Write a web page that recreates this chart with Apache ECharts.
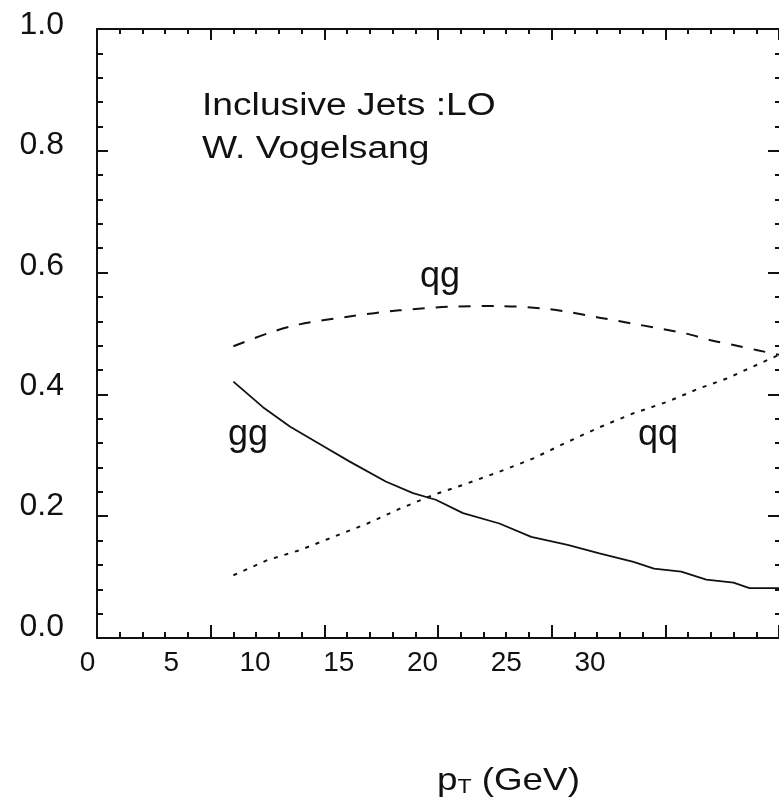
<!DOCTYPE html>
<html>
<head>
<meta charset="utf-8">
<script src="https://cdn.jsdelivr.net/npm/echarts@6/dist/echarts.min.js"></script>
<style>
html,body{margin:0;padding:0;background:#ffffff;}
#c{width:779px;height:803px;}
</style>
</head>
<body>
<div id="c"></div>
<script>
// ---- data ----
const xTickLabels = [0, 5, 10, 15, 20, 25, 30];
const yTickLabels = [0.0, 0.2, 0.4, 0.6, 0.8, 1.0];

// gg (solid)
const ggPt   = [6.0, 7.3, 8.5, 10.0, 11.1, 12.7, 13.9, 14.9, 16.1, 17.7, 19.1, 20.7, 22.1, 23.6, 24.5, 25.7, 26.8, 28.0, 28.7, 30.0];
const ggFrac = [0.421, 0.379, 0.347, 0.314, 0.290, 0.257, 0.238, 0.227, 0.205, 0.188, 0.166, 0.153, 0.139, 0.125, 0.114, 0.109, 0.096, 0.091, 0.082, 0.082];

// qg (dashed)
const qgPt   = [6.0, 7.5, 8.9, 11.1, 13.3, 15.5, 17.7, 19.9, 22.1, 23.9, 25.9, 27.0, 28.0, 29.0, 30.0];
const qgFrac = [0.479, 0.500, 0.515, 0.528, 0.538, 0.544, 0.545, 0.540, 0.526, 0.514, 0.500, 0.489, 0.481, 0.473, 0.465];

// qq (dotted)
const qqPt   = [6.0, 7.5, 8.9, 10.4, 11.9, 13.3, 14.8, 16.3, 17.7, 19.2, 20.7, 22.1, 23.6, 25.1, 26.5, 27.7, 28.7, 30.0];
const qqFrac = [0.103, 0.128, 0.144, 0.166, 0.188, 0.212, 0.235, 0.254, 0.273, 0.295, 0.322, 0.346, 0.369, 0.388, 0.410, 0.426, 0.443, 0.465];

const annotationLines = ['Inclusive Jets :LO', 'W. Vogelsang'];
const curveNames = ['gg', 'qg', 'qq'];

// ---- chart ----
const FONT = '"Liberation Sans", Arial, Helvetica, sans-serif';
const INK = '#111111';
const pairs = (xs, ys) => xs.map((x, i) => [x, ys[i]]);

const xMin = xTickLabels[0], xMax = xTickLabels[xTickLabels.length - 1];
const xStep = xTickLabels[1] - xTickLabels[0];
const yMin = yTickLabels[0], yMax = yTickLabels[yTickLabels.length - 1];
const yStep = yTickLabels[1] - yTickLabels[0];

function tickAxis(pos, major, minor, lineShow) {
  const isX = pos === 'bottom' || pos === 'top';
  return {
    gridIndex: 0, type: 'value', position: pos,
    min: isX ? xMin : yMin, max: isX ? xMax : yMax, interval: isX ? xStep : yStep,
    axisLine: { show: lineShow, onZero: false, lineStyle: { color: INK, width: 2 } },
    axisTick: { show: true, inside: true, length: major, lineStyle: { color: INK, width: 2 } },
    minorTick: { show: true, splitNumber: 5, length: minor, lineStyle: { color: INK, width: 2 } },
    axisLabel: { show: false },
    splitLine: { show: false }, minorSplitLine: { show: false }
  };
}

const chart = echarts.init(document.getElementById('c'), null, { renderer: 'canvas' });
chart.setOption({
  animation: false,
  backgroundColor: '#ffffff',
  grid: [
    { left: 97, top: 29, width: 682, height: 609 },
    { left: 87.5, top: 25, width: 502.5, height: 602 }
  ],
  xAxis: [
    tickAxis('bottom', 13, 6, true),
    tickAxis('top', 11, 5, true),
    {
      gridIndex: 1, type: 'value', position: 'bottom',
      min: xMin, max: xMax, interval: xStep,
      axisLine: { show: false }, axisTick: { show: false }, splitLine: { show: false },
      axisLabel: { show: true, margin: 36, verticalAlign: 'middle', color: INK,
        fontFamily: FONT, fontSize: 28, formatter: v => String(v) }
    }
  ],
  yAxis: [
    tickAxis('left', 11, 6, true),
    tickAxis('right', 11, 4, false),
    {
      gridIndex: 1, type: 'value', position: 'left',
      min: yMin, max: yMax, interval: yStep,
      axisLine: { show: false }, axisTick: { show: false }, splitLine: { show: false },
      axisLabel: { show: true, margin: 23.5, color: INK,
        fontFamily: FONT, fontSize: 32, formatter: v => v.toFixed(1) }
    }
  ],
  series: [
    { name: curveNames[0], type: 'line', xAxisIndex: 0, yAxisIndex: 0, data: pairs(ggPt, ggFrac),
      symbol: 'none', silent: true, lineStyle: { color: INK, width: 1.8, type: 'solid' } },
    { name: curveNames[1], type: 'line', xAxisIndex: 0, yAxisIndex: 0, data: pairs(qgPt, qgFrac),
      symbol: 'none', silent: true, smooth: 0.3, lineStyle: { color: INK, width: 2, type: [12, 11] } },
    { name: curveNames[2], type: 'line', xAxisIndex: 0, yAxisIndex: 0, data: pairs(qqPt, qqFrac),
      symbol: 'none', silent: true, lineStyle: { color: INK, width: 2, type: [4, 7] } }
  ],
  graphic: [
    { type: 'text', x: 202, y: 106, scaleX: 1.2, silent: true,
      style: { text: annotationLines[0], font: '31px ' + FONT, fill: INK, align: 'left', verticalAlign: 'middle' } },
    { type: 'text', x: 202, y: 149, scaleX: 1.2, silent: true,
      style: { text: annotationLines[1], font: '31px ' + FONT, fill: INK, align: 'left', verticalAlign: 'middle' } },
    { type: 'text', x: 228, y: 435, silent: true,
      style: { text: curveNames[0], font: '36px ' + FONT, fill: INK, align: 'left', verticalAlign: 'middle' } },
    { type: 'text', x: 420, y: 277, silent: true,
      style: { text: curveNames[1], font: '36px ' + FONT, fill: INK, align: 'left', verticalAlign: 'middle' } },
    { type: 'text', x: 638, y: 435, silent: true,
      style: { text: curveNames[2], font: '36px ' + FONT, fill: INK, align: 'left', verticalAlign: 'middle' } },
    { type: 'text', x: 437, y: 779, scaleX: 1.15, silent: true,
      style: {
        text: '{m|p}{s|T}{m| (GeV)}', fill: INK, align: 'left', verticalAlign: 'middle',
        rich: {
          m: { fontFamily: FONT, fontSize: 32, lineHeight: 36, verticalAlign: 'bottom', fill: INK },
          s: { fontFamily: FONT, fontSize: 20, lineHeight: 12, verticalAlign: 'bottom', fill: INK }
        }
      } }
  ]
});
</script>
</body>
</html>
